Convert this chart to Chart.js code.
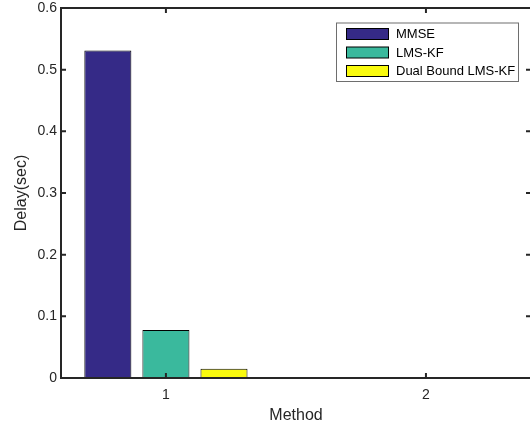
<!DOCTYPE html>
<html>
<head>
<meta charset="utf-8">
<script src="https://cdn.jsdelivr.net/npm/chart.js@4/dist/chart.umd.min.js"></script>
<style>
  html, body { margin: 0; padding: 0; background: #fff; overflow: hidden; }
  #wrap { width: 540px; height: 425px; }
</style>
</head>
<body>
<div id="wrap"><canvas id="delayChart" width="540" height="425"></canvas></div>
<script>
// data
const methods = [1, 2];
const mmse = [0.531, 0];
const lmsKf = [0.078, 0];
const dualBound = [0.015, 0];
const yTicks = [0, 0.1, 0.2, 0.3, 0.4, 0.5, 0.6];

const axisColor = '#262626';

// MATLAB style box with inward ticks + legend box
const boxPlugin = {
    id: 'matlabBox',
    afterDraw(chart) {
        const ctx = chart.ctx;
        const a = chart.chartArea;
        const xs = chart.scales.x, ys = chart.scales.y;
        ctx.save();
        ctx.strokeStyle = axisColor;
        ctx.lineWidth = 2;
        ctx.strokeRect(a.left, a.top, a.right - a.left, a.bottom - a.top);
        ctx.beginPath();
        xs.ticks.forEach(t => {
            const px = xs.getPixelForValue(t.value);
            ctx.moveTo(px, a.bottom); ctx.lineTo(px, a.bottom - 5);
            ctx.moveTo(px, a.top); ctx.lineTo(px, a.top + 5);
        });
        ys.ticks.forEach(t => {
            const py = ys.getPixelForValue(t.value);
            ctx.moveTo(a.left, py); ctx.lineTo(a.left + 5, py);
            ctx.moveTo(a.right, py); ctx.lineTo(a.right - 5, py);
        });
        ctx.stroke();

        // legend
        const lx = 336, ly = 22.5, lw = 182, lh = 58.5;
        ctx.fillStyle = '#fff';
        ctx.fillRect(lx, ly, lw, lh);
        ctx.strokeStyle = '#6e6e6e';
        ctx.lineWidth = 1;
        ctx.strokeRect(lx + 0.5, ly + 0.5, lw, lh);
        ctx.font = '13px "Liberation Sans", Arial, sans-serif';
        ctx.textBaseline = 'middle';
        chart.data.datasets.forEach((ds, i) => {
            const cy = 34 + i * 18.5;
            ctx.fillStyle = ds.backgroundColor;
            ctx.fillRect(346, cy - 5.5, 42, 11);
            ctx.strokeStyle = '#000';
            ctx.strokeRect(346.5, cy - 5.5, 42, 11);
            ctx.fillStyle = '#000';
            ctx.fillText(ds.label, 396, cy + 0.5);
        });
        ctx.restore();
    }
};

const ctxDelay = document.getElementById('delayChart').getContext('2d');
new Chart(ctxDelay, {
    type: 'bar',
    data: {
        labels: methods,
        datasets: [
            { label: 'MMSE', data: mmse, backgroundColor: '#352a87' },
            { label: 'LMS-KF', data: lmsKf, backgroundColor: '#3ab99d' },
            { label: 'Dual Bound LMS-KF', data: dualBound, backgroundColor: '#f9fa0e' }
        ]
    },
    options: {
        responsive: false,
        animation: false,
        layout: { padding: { left: 0, top: 8, right: 9, bottom: 0 } },
        datasets: {
            bar: {
                categoryPercentage: 0.67,
                barPercentage: 0.81,
                borderColor: '#000',
                borderWidth: 1,
                borderSkipped: false
            }
        },
        plugins: {
            legend: { display: false },
            tooltip: { enabled: false }
        },
        scales: {
            x: {
                type: 'linear',
                offset: false,
                min: 0.5965,
                max: 2.404,
                afterBuildTicks: s => { s.ticks = methods.map(v => ({ value: v })); },
                afterFit: s => { s.height = 47; s.paddingLeft = 0; s.paddingRight = 0; },
                grid: { display: false, drawTicks: false, offset: false },
                border: { display: false },
                ticks: {
                    color: axisColor,
                    padding: 9,
                    font: { family: '"Liberation Sans", Arial, sans-serif', size: 14 }
                },
                title: {
                    display: true,
                    text: 'Method',
                    color: axisColor,
                    padding: { top: 4, bottom: 0 },
                    font: { family: '"Liberation Sans", Arial, sans-serif', size: 16 }
                }
            },
            y: {
                min: 0,
                max: 0.6,
                afterBuildTicks: s => { s.ticks = yTicks.map(v => ({ value: v })); },
                afterFit: s => { s.width = 61; s.paddingTop = 0; s.paddingBottom = 0; },
                grid: { display: false, drawTicks: false },
                border: { display: false },
                ticks: {
                    color: axisColor,
                    padding: 4,
                    font: { family: '"Liberation Sans", Arial, sans-serif', size: 14 }
                },
                title: {
                    display: true,
                    text: 'Delay(sec)',
                    color: axisColor,
                    padding: { top: 12, bottom: 4 },
                    font: { family: '"Liberation Sans", Arial, sans-serif', size: 16 }
                }
            }
        }
    },
    plugins: [boxPlugin]
});
</script>
</body>
</html>
